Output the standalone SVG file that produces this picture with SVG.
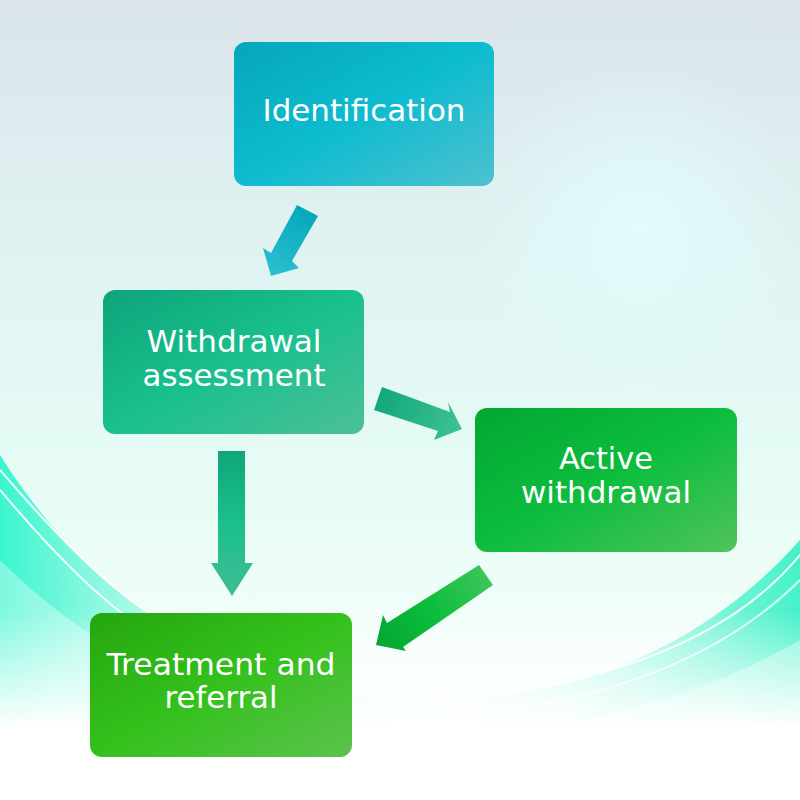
<svg xmlns="http://www.w3.org/2000/svg" width="800" height="800" viewBox="0 0 800 800">
<defs>
<linearGradient id="bg" x1="0" y1="0" x2="0" y2="1">
<stop offset="0" stop-color="#dbe5ea"/>
<stop offset="0.35" stop-color="#e0f4f3"/>
<stop offset="0.6" stop-color="#e6fcf5"/>
<stop offset="1" stop-color="#ffffff"/>
</linearGradient>
<radialGradient id="glow" cx="640" cy="230" r="170" gradientUnits="userSpaceOnUse">
<stop offset="0" stop-color="#e2fbfb" stop-opacity="1"/>
<stop offset="1" stop-color="#e2fbfb" stop-opacity="0"/>
</radialGradient>
<linearGradient id="band" x1="0" y1="0" x2="800" y2="0" gradientUnits="userSpaceOnUse">
<stop offset="0" stop-color="#30f5cc" stop-opacity="0.95"/>
<stop offset="0.3" stop-color="#80f5dc" stop-opacity="0.15"/>
<stop offset="0.6" stop-color="#80f5dc" stop-opacity="0.1"/>
<stop offset="1" stop-color="#30f0c4" stop-opacity="0.9"/>
</linearGradient>
<linearGradient id="whiteFade" x1="0" y1="610" x2="0" y2="780" gradientUnits="userSpaceOnUse">
<stop offset="0" stop-color="#ffffff" stop-opacity="0"/>
<stop offset="0.7" stop-color="#ffffff" stop-opacity="1"/>
</linearGradient>
<linearGradient id="gId" x1="0" y1="0" x2="1" y2="1">
<stop offset="0" stop-color="#05a6ba"/>
<stop offset="0.5" stop-color="#0dbccf"/>
<stop offset="1" stop-color="#4fc0d0"/>
</linearGradient>
<linearGradient id="gWA" x1="0" y1="0" x2="1" y2="1">
<stop offset="0" stop-color="#0ea479"/>
<stop offset="0.5" stop-color="#19c08e"/>
<stop offset="1" stop-color="#4dbf98"/>
</linearGradient>
<linearGradient id="gAW" x1="0" y1="0" x2="1" y2="1">
<stop offset="0" stop-color="#03a632"/>
<stop offset="0.5" stop-color="#0cbd3e"/>
<stop offset="1" stop-color="#50c35c"/>
</linearGradient>
<linearGradient id="gTR" x1="0" y1="0" x2="1" y2="1">
<stop offset="0" stop-color="#25a60f"/>
<stop offset="0.5" stop-color="#34c11c"/>
<stop offset="1" stop-color="#5cc24e"/>
</linearGradient>
<linearGradient id="a1" x1="307" y1="210" x2="271" y2="276" gradientUnits="userSpaceOnUse">
<stop offset="0" stop-color="#05a8bb"/>
<stop offset="1" stop-color="#2cc0d2"/>
</linearGradient>
<linearGradient id="a2" x1="378" y1="398" x2="462" y2="429" gradientUnits="userSpaceOnUse">
<stop offset="0" stop-color="#12a77a"/>
<stop offset="1" stop-color="#3dc295"/>
</linearGradient>
<linearGradient id="a3" x1="232" y1="451" x2="232" y2="596" gradientUnits="userSpaceOnUse">
<stop offset="0" stop-color="#0fa57a"/>
<stop offset="0.5" stop-color="#1bbf8d"/>
<stop offset="1" stop-color="#3fbd95"/>
</linearGradient>
<linearGradient id="a4" x1="486" y1="575" x2="376" y2="645" gradientUnits="userSpaceOnUse">
<stop offset="0" stop-color="#3cc55a"/>
<stop offset="0.5" stop-color="#0cbd3c"/>
<stop offset="1" stop-color="#03a632"/>
</linearGradient>
<style>
.lbl{font-family:"DejaVu Sans","Liberation Sans",sans-serif;font-size:31px;fill:#ffffff;text-anchor:middle}
</style>
</defs>
<rect x="0" y="0" width="800" height="800" fill="url(#bg)"/>
<circle cx="640" cy="230" r="170" fill="url(#glow)"/>
<path d="M0,455 C110,630 270,700 430,700 C600,700 720,630 800,540 L800,800 L0,800 Z" fill="url(#band)"/>
<path d="M0,560 C140,700 300,730 450,730 C620,730 730,680 800,640 L800,800 L0,800 Z" fill="#ffffff" opacity="0.35"/>
<rect x="0" y="610" width="800" height="190" fill="url(#whiteFade)"/>
<g fill="none" stroke="#ffffff" stroke-width="2" opacity="0.9">
<path d="M0,470 C60,540 110,590 160,620"/>
<path d="M0,490 C55,555 100,600 145,630"/>
<path d="M800,555 C730,640 600,690 430,700"/>
<path d="M800,580 C720,660 600,705 440,718" opacity="0.8"/>
</g>
<g id="connectors">
<polygon points="297,205 318,216 292,261 299,268 271,276 263,248 271,253" fill="url(#a1)"/>
<polygon points="382,387 450,412 448,402 462,429 434,440 438,431 374,410" fill="url(#a2)"/>
<polygon points="218,451 245,451 245,563 253,563 232,596 211,563 218,563" fill="url(#a3)"/>
<polygon points="479,565 493,585 403,647 406,651 376,645 383,615 387,623" fill="url(#a4)"/>
</g>
<g id="identification">
<rect x="234" y="42" width="260" height="144" rx="12" fill="url(#gId)"/>
<text class="lbl" x="364" y="121" textLength="203" lengthAdjust="spacingAndGlyphs">Identification</text>
</g>
<g id="withdrawal-assessment">
<rect x="103" y="290" width="261" height="144" rx="12" fill="url(#gWA)"/>
<text class="lbl" x="234" y="352" textLength="175" lengthAdjust="spacingAndGlyphs">Withdrawal</text>
<text class="lbl" x="234" y="386" textLength="183" lengthAdjust="spacingAndGlyphs">assessment</text>
</g>
<g id="active-withdrawal">
<rect x="475" y="408" width="262" height="144" rx="12" fill="url(#gAW)"/>
<text class="lbl" x="606" y="469" textLength="94" lengthAdjust="spacingAndGlyphs">Active</text>
<text class="lbl" x="606" y="503" textLength="170" lengthAdjust="spacingAndGlyphs">withdrawal</text>
</g>
<g id="treatment-referral">
<rect x="90" y="613" width="262" height="144" rx="12" fill="url(#gTR)"/>
<text class="lbl" x="221" y="675" textLength="229" lengthAdjust="spacingAndGlyphs">Treatment and</text>
<text class="lbl" x="221" y="708" textLength="113" lengthAdjust="spacingAndGlyphs">referral</text>
</g>
</svg>
